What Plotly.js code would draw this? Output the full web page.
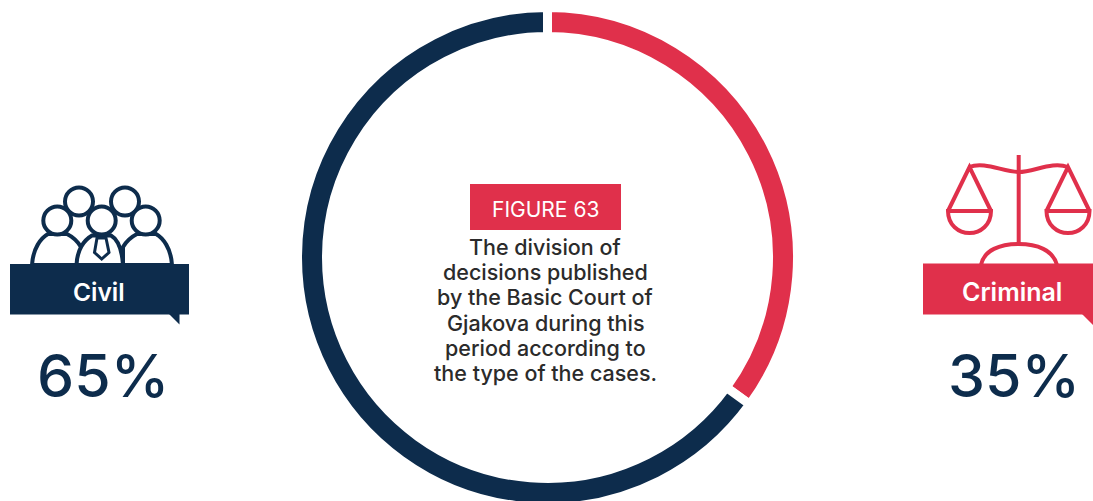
<!DOCTYPE html>
<html>
<head>
<meta charset="utf-8">
<script src="https://cdn.plot.ly/plotly-3.0.1.min.js"></script>
<style>html,body{margin:0;padding:0;background:#fff;overflow:hidden;width:1093px;height:501px}#chart{width:1093px;height:520px}</style>
</head>
<body>
<div id="chart"></div>
<script>
const categories = ['Criminal', 'Civil'];
const shares = [35, 65];
const figureLabel = 'FIGURE 63';
const captionLines = ['The division of', 'decisions published', 'by the Basic Court of', 'Gjakova during this', 'period according to', 'the type of the cases.'];

const NAVY = '#0d2c4c', RED = '#e0304b', INK = '#2b2b2b';
const W = 1093, H = 520, FONT = 'Inter, Lato, sans-serif';
const SW = 4;
const px = x => x / W, py = y => 1 - y / H;

function path(parts, color, fill, width) {
  let d = '', i = 0;
  for (const p of parts) {
    if (typeof p === 'string') { d += p; i = 0; }
    else { d += (i % 2 === 0 ? px(p) : py(p)) + (i % 2 === 0 ? ',' : ' '); i++; }
  }
  return {type: 'path', xref: 'paper', yref: 'paper', path: d,
    line: {color: color, width: width === undefined ? SW : width},
    fillcolor: fill || 'rgba(0,0,0,0)', layer: 'above'};
}
function circle(cx, cy, r, color, fill) {
  return {type: 'circle', xref: 'paper', yref: 'paper', x0: px(cx - r), x1: px(cx + r), y0: py(cy + r), y1: py(cy - r),
    line: {color: color, width: SW}, fillcolor: fill, layer: 'above'};
}
function rect(x0, y0, x1, y1, color) {
  return {type: 'rect', xref: 'paper', yref: 'paper', x0: px(x0), x1: px(x1), y0: py(y1), y1: py(y0),
    line: {width: 0}, fillcolor: color, layer: 'above'};
}
function text(str, x, y, size, color, weight) {
  return {xref: 'paper', yref: 'paper', x: px(x), y: py(y), text: str, showarrow: false,
    xanchor: 'center', yanchor: 'middle', align: 'center',
    font: {family: FONT, size: size, color: color, weight: weight || 400}};
}

const civilIcon = [
  circle(79, 201.5, 14, NAVY, '#fff'),
  circle(125, 201.5, 14, NAVY, '#fff'),
  path(['M', 32, 265, 'C', 33, 248, 41, 238, 48, 234, 'L', 67, 234, 'C', 73, 237, 78, 242, 81, 247, 'L', 81, 265, 'Z'], NAVY, '#fff'),
  path(['M', 123, 265, 'L', 123, 247, 'C', 126, 242, 131, 237, 137, 234, 'L', 156, 234, 'C', 163, 238, 171, 248, 172, 265, 'Z'], NAVY, '#fff'),
  path(['M', 76.5, 265, 'C', 77, 250, 84, 240, 92, 235.5, 'L', 111, 235.5, 'C', 119, 240, 122, 250, 123, 265, 'Z'], NAVY, '#fff'),
  path(['M', 97, 238, 'L', 94.5, 252.5, 'L', 101.7, 259, 'L', 109, 252.5, 'L', 106, 238, 'Z'], NAVY, '#fff', 3),
  circle(57.3, 220.5, 14, NAVY, '#fff'),
  circle(101.7, 220.5, 14, NAVY, '#fff'),
  circle(145.7, 220.5, 14, NAVY, '#fff'),
  rect(10, 264, 189, 314.5, NAVY),
  path(['M', 169, 314, 'L', 179.5, 324.5, 'L', 179.5, 314, 'Z'], NAVY, NAVY, 0)
];
const arm = (x) => [
  path(['M', x - 21.5, 211, 'L', x, 167, 'L', x + 21.5, 211], RED),
  path(['M', x - 21.5, 211, 'L', x + 21.5, 211, 'C', x + 21.5, 225, x + 11, 233, x, 233, 'C', x - 11, 233, x - 21.5, 225, x - 21.5, 211, 'Z'], RED)
];
const criminalIcon = [
  path(['M', 1018.7, 155, 'L', 1018.7, 243], RED),
  path(['M', 969, 167, 'C', 985, 161, 1003, 172, 1018.7, 172, 'C', 1034, 172, 1052, 161, 1068, 167], RED),
  ...arm(969.5), ...arm(1068),
  path(['M', 981, 265, 'C', 984, 250, 1000, 244, 1018.7, 244, 'C', 1037, 244, 1053, 250, 1057, 265], RED),
  rect(923, 263.5, 1093, 314.5, RED),
  path(['M', 1082, 314, 'L', 1093, 325, 'L', 1093, 314, 'Z'], RED, RED, 0)
];

const data = [{
  type: 'pie',
  labels: categories,
  values: shares,
  sort: false,
  direction: 'clockwise',
  rotation: 0,
  hole: 0.884,
  textinfo: 'none',
  hoverinfo: 'label+percent',
  showlegend: false,
  marker: {colors: [RED, NAVY], line: {color: '#ffffff', width: 9}},
  domain: {x: [px(297.5), px(797.5)], y: [py(507.5), py(7.5)]}
}];

const layout = {
  width: W, height: H,
  margin: {l: 0, r: 0, t: 0, b: 0},
  paper_bgcolor: '#fff',
  showlegend: false,
  shapes: [rect(470, 184, 621, 230, RED), ...civilIcon, ...criminalIcon],
  annotations: [
    text(figureLabel, 545.5, 209.5, 21, '#fff'),
    ...captionLines.map((l, i) => text(l, 545, 247 + i * 25.2, 21.5, INK, 500)),
    text(categories[1], 99, 291.5, 24.5, '#fff', 600),
    text(categories[0], 1012, 291.5, 25, '#fff', 600),
    text(shares[1] + '%', 102.5, 375, 59, NAVY, 500),
    text(shares[0] + '%', 1013.5, 375, 59, NAVY, 500)
  ]
};
Plotly.newPlot('chart', data, layout, {displayModeBar: false, responsive: false});
</script>
</body>
</html>
